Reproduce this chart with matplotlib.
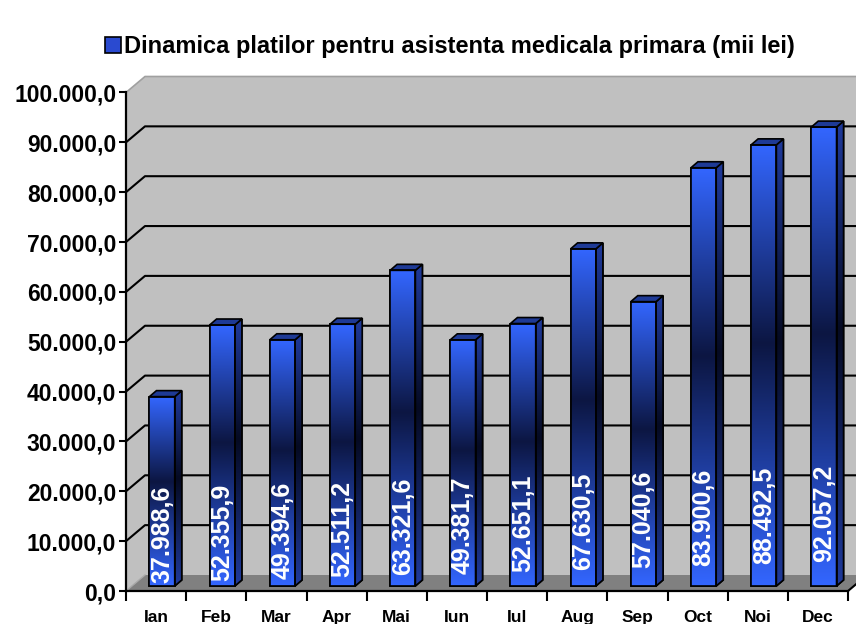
import matplotlib
matplotlib.use('Agg')
import matplotlib.pyplot as plt
import numpy as np
from matplotlib.colors import LinearSegmentedColormap
from matplotlib.patches import Polygon, Rectangle

plt.rcParams['font.family'] = ['Liberation Sans', 'DejaVu Sans']

# data
months = ['Ian', 'Feb', 'Mar', 'Apr', 'Mai', 'Iun', 'Iul', 'Aug', 'Sep', 'Oct', 'Noi', 'Dec']
values = [37988.6, 52355.9, 49394.6, 52511.2, 63321.6, 49381.7,
          52651.1, 67630.5, 57040.6, 83900.6, 88492.5, 92057.2]
y_ticks = np.arange(0, 100001, 10000)
title = 'Dinamica platilor pentru asistenta medicala primara (mii lei)'


def ro(v):
    # romanian number format: 100.000,0
    s = f'{v:,.1f}'
    return s.replace(',', ' ').replace('.', ',').replace(' ', '.')


W, H = 856, 624
fig = plt.figure(figsize=(W / 100, H / 100), dpi=100)
ax = fig.add_axes([126 / W, 33 / H, 722 / W, 498.5 / H])
ax.patch.set_visible(False)

x0, x1, xend = -0.5, 11.5, 13.5
ymax = 100000
# pixel -> data units
ux = (x1 - x0) / 722
uy = ymax / 498.5
dx, dy = 19 * ux, 16 * uy      # depth of the walls
bx, by = 6 * ux, 5 * uy        # bars sit a bit inside the floor
sx, sy = 7 * ux, 6 * uy        # depth of a bar
bw = 0.42
x = np.arange(len(months))

# walls and floor
ax.add_patch(Polygon([(x0, 0), (x0 + dx, dy), (x0 + dx, ymax + dy), (x0, ymax)],
                     fc='#c0c0c0', ec='none', zorder=0.5, clip_on=False))
ax.add_patch(Rectangle((x0 + dx, dy), xend - x0, ymax, fc='#c0c0c0', ec='none',
                       zorder=0.5, clip_on=False))
ax.add_patch(Polygon([(x0, 0), (x1, 0), (x1 + dx, dy), (x0 + dx, dy)],
                     fc='#808080', ec='none', zorder=0.6, clip_on=False))

for t in y_ticks[1:-1]:
    ax.plot([x0, x0 + dx, xend], [t, t + dy, t + dy], color='black', lw=1.5,
            zorder=0.8, clip_on=False)
ax.plot([x0, x0 + dx, xend], [ymax, ymax + dy, ymax + dy], color='#a0a0a0',
        lw=1.2, zorder=0.8, clip_on=False)
ax.plot([x0, x0 + dx], [0, dy], color='#a8a8a8', lw=1.0, zorder=0.8, clip_on=False)
ax.plot([x1, x1 + dx], [0, dy], color='black', lw=1.5, zorder=0.8, clip_on=False)

# bars with gradient faces
front_cmap = LinearSegmentedColormap.from_list(
    'front', [(0, '#3366ff'), (0.55, '#0c1642'), (1, '#3366ff')])
side_cmap = LinearSegmentedColormap.from_list(
    'side', [(0, '#1f3a9c'), (0.55, '#050a22'), (1, '#1f3a9c')])
grad = np.linspace(0, 1, 256).reshape(-1, 1)

bars = ax.bar(x + bx, values, bw, bottom=by, color='#2a4ad0', edgecolor='black',
              lw=1.2, zorder=3, label=title)

for b, v in zip(bars, values):
    xl = b.get_x()
    xr = xl + b.get_width()
    top = by + v
    im = ax.imshow(grad, cmap=front_cmap, origin='lower', aspect='auto',
                   extent=(xl, xr, by, top), zorder=3.1, interpolation='bilinear')
    im.set_clip_path(b)

    side = Polygon([(xr, by), (xr, top), (xr + sx, top + sy), (xr + sx, by + sy)],
                   fc='#1a3080', ec='black', lw=1.2, zorder=3, joinstyle='miter')
    ax.add_patch(side)
    im2 = ax.imshow(grad, cmap=side_cmap, origin='lower', aspect='auto',
                    extent=(xr, xr + sx, by, top + sy), zorder=3.1,
                    interpolation='bilinear')
    im2.set_clip_path(side)
    ax.add_patch(Polygon([(xr, by), (xr, top), (xr + sx, top + sy), (xr + sx, by + sy)],
                         fill=False, ec='black', lw=1.2, zorder=3.3, joinstyle='miter'))
    ax.add_patch(Polygon([(xl, top), (xr, top), (xr + sx, top + sy), (xl + sx, top + sy)],
                         fc='#1e3a96', ec='black', lw=1.2, zorder=3.3, joinstyle='miter'))

ax.bar(x + bx, values, bw, bottom=by, fill=False, edgecolor='black', lw=1.2, zorder=3.3)

# value labels inside the bars
for i, (b, v) in enumerate(zip(bars, values)):
    ax.text(b.get_x() + bw / 2, by + (3 + 1.9 * i) * uy, ro(v), rotation=90,
            rotation_mode='anchor', ha='left', va='center', color='white',
            fontsize=18, fontweight='bold', zorder=4)

ax.set_xlim(x0, x1)
ax.set_ylim(0, ymax)

ax.set_yticks(y_ticks, [ro(t) for t in y_ticks])
ax.tick_params(axis='y', length=5, width=1.5, pad=2, labelsize=16.5)
for lab in ax.get_yticklabels():
    lab.set_fontweight('bold')

ax.set_xticks(x, months)
ax.set_xticks(np.arange(-0.5, 12, 1), minor=True)
ax.tick_params(axis='x', which='major', length=0, pad=14, labelsize=12.5)
ax.tick_params(axis='x', which='minor', length=7, width=1.5)
for lab in ax.get_xticklabels():
    lab.set_fontweight('bold')

for s in ['top', 'right']:
    ax.spines[s].set_visible(False)
for s in ['left', 'bottom']:
    ax.spines[s].set_linewidth(1.6)
    ax.spines[s].set_zorder(2.5)

fig.legend(handles=[bars], labels=[title], loc='center',
           bbox_to_anchor=(450 / W, 1 - 47 / H), frameon=False,
           prop=dict(weight='bold', size=17), handlelength=0.65,
           handleheight=0.65, handletextpad=0.15)

fig.savefig('out.png', dpi=100)
